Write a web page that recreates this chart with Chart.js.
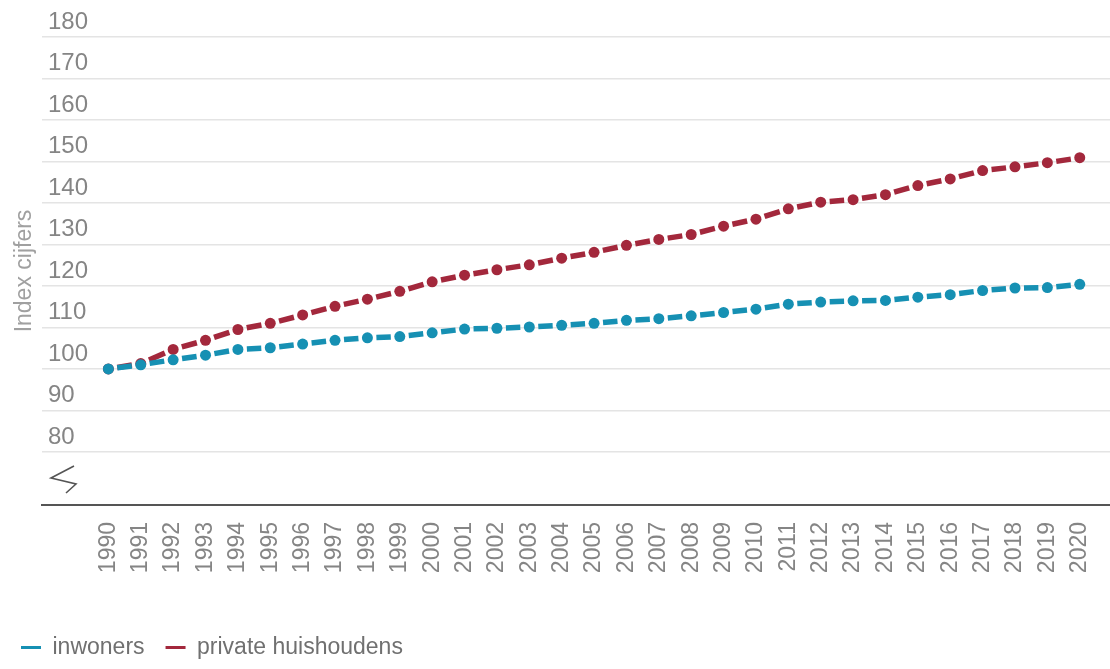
<!DOCTYPE html>
<html>
<head>
<meta charset="utf-8">
<script src="https://cdn.jsdelivr.net/npm/chart.js@4/dist/chart.umd.min.js"></script>
<style>
  html, body { margin: 0; padding: 0; background: #fff; overflow: hidden; }
  #wrap { width: 1116px; height: 669px; }
</style>
</head>
<body>
<div id="wrap"><canvas id="chart"></canvas></div>
<script>
const years = [1990, 1991, 1992, 1993, 1994, 1995, 1996, 1997, 1998, 1999, 2000,
  2001, 2002, 2003, 2004, 2005, 2006, 2007, 2008, 2009, 2010,
  2011, 2012, 2013, 2014, 2015, 2016, 2017, 2018, 2019, 2020];

const inwoners = [100, 101.0, 102.2, 103.3, 104.7, 105.1, 106.0, 106.9, 107.5, 107.8, 108.7,
  109.6, 109.8, 110.1, 110.5, 111.0, 111.7, 112.1, 112.8, 113.6, 114.4,
  115.6, 116.1, 116.4, 116.5, 117.3, 117.9, 118.9, 119.5, 119.6, 120.4];

const huishoudens = [100, 101.3, 104.7, 106.9, 109.5, 111.0, 113.0, 115.1, 116.8, 118.7, 121.0,
  122.6, 123.9, 125.1, 126.7, 128.1, 129.8, 131.2, 132.4, 134.4, 136.1,
  138.6, 140.2, 140.8, 142.0, 144.2, 145.8, 147.8, 148.7, 149.7, 150.9];

const yTicks = [80, 90, 100, 110, 120, 130, 140, 150, 160, 170, 180];

const FONT = "'Liberation Sans', Arial, sans-serif";
const BLUE = "#1690b3";
const RED = "#a3283c";

// one dash centered between each pair of points
function segLen(c) {
  return Math.hypot(c.p1.x - c.p0.x, c.p1.y - c.p0.y);
}
const dashedSegment = {
  borderDash: (c) => {
    const L = segLen(c);
    return [Math.max(L - 18, 1), 18];
  },
  borderDashOffset: (c) => segLen(c) - 9,
};

function makeSet(label, values, color) {
  return {
    label: label,
    data: years.map((y, i) => ({ x: y, y: values[i] })),
    borderColor: color,
    backgroundColor: color,
    borderWidth: 5.5,
    pointRadius: 5.5,
    pointHoverRadius: 5.5,
    pointBorderWidth: 0,
    pointBackgroundColor: color,
    segment: dashedSegment,
  };
}

// axis break symbol near the bottom of the y axis
const breakMark = {
  id: "breakMark",
  afterDraw(chart) {
    const { ctx, chartArea } = chart;
    const l = chartArea.left;
    const b = chartArea.bottom;
    ctx.save();
    ctx.strokeStyle = "#555";
    ctx.lineWidth = 1.6;
    ctx.beginPath();
    ctx.moveTo(l + 32, b - 39);
    ctx.lineTo(l + 9, b - 27);
    ctx.lineTo(l + 34, b - 21);
    ctx.lineTo(l + 24, b - 12);
    ctx.stroke();
    ctx.restore();
  },
};

new Chart(document.getElementById("chart"), {
  type: "line",
  data: {
    datasets: [
      makeSet("inwoners", inwoners, BLUE),
      makeSet("private huishoudens", huishoudens, RED),
    ],
  },
  options: {
    responsive: true,
    maintainAspectRatio: false,
    animation: false,
    layout: { padding: { top: 37, right: 0, bottom: 0, left: 0 } },
    plugins: {
      tooltip: { enabled: false },
      legend: {
        position: "bottom",
        align: "start",
        labels: {
          color: "#707070",
          font: { family: FONT, size: 23 },
          boxWidth: 20,
          boxHeight: 3,
          padding: 21,
          generateLabels(chart) {
            const items = Chart.defaults.plugins.legend.labels.generateLabels(chart);
            return items.map((it) => {
              it.lineDash = [];
              it.lineWidth = 0;
              it.fillStyle = it.strokeStyle;
              return it;
            });
          },
        },
      },
    },
    scales: {
      x: {
        type: "linear",
        min: 1987.95,
        max: 2020.95,
        afterBuildTicks(scale) {
          scale.ticks = years.map((y) => ({ value: y }));
        },
        afterFit(scale) {
          scale.height = 110;
          scale.paddingLeft = 0;
          scale.paddingRight = 0;
        },
        grid: { display: false, drawTicks: false },
        border: { display: true, color: "#555", width: 2 },
        ticks: {
          autoSkip: false,
          maxRotation: 90,
          minRotation: 90,
          padding: 17,
          color: "#858585",
          font: { family: FONT, size: 23 },
          callback: (v) => String(v),
        },
      },
      y: {
        min: 67.2,
        max: 180,
        afterBuildTicks(scale) {
          scale.ticks = yTicks.map((v) => ({ value: v }));
        },
        afterFit(scale) {
          scale.width = 42;
        },
        grid: { color: "#e4e4e4", lineWidth: 1.5, drawTicks: false },
        border: { display: false },
        ticks: {
          mirror: true,
          padding: 6,
          labelOffset: -15,
          color: "#858585",
          font: { family: FONT, size: 24 },
        },
        title: {
          display: true,
          text: "Index cijfers",
          color: "#a0a0a0",
          font: { family: FONT, size: 23 },
          padding: { top: 11, bottom: 0 },
        },
      },
    },
  },
  plugins: [breakMark],
});
</script>
</body>
</html>
